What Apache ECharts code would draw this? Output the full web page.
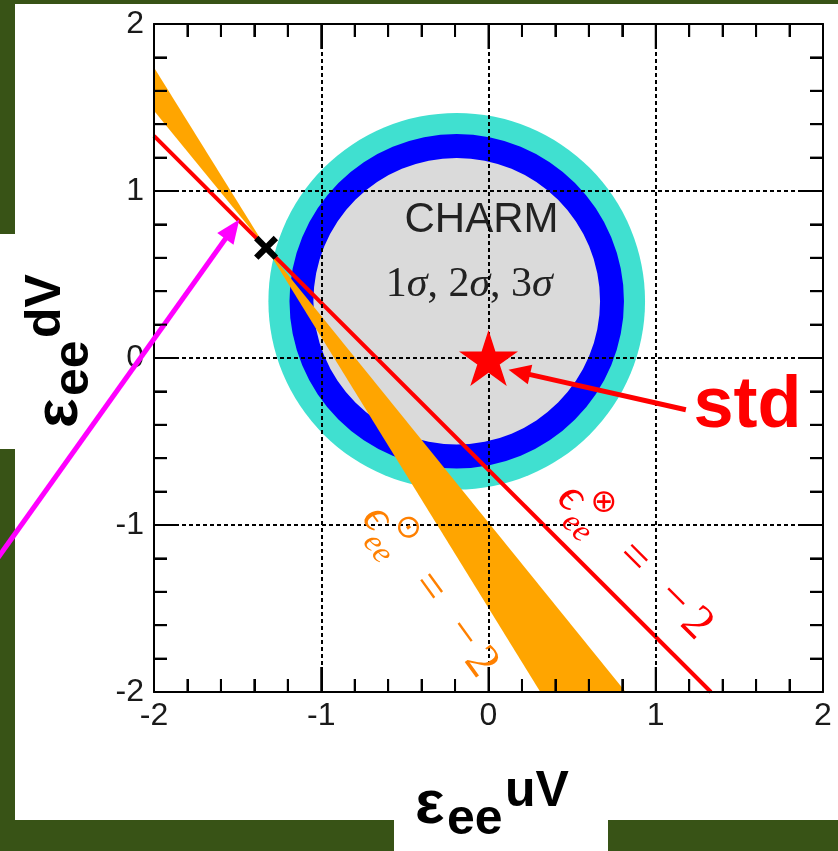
<!DOCTYPE html>
<html>
<head>
<meta charset="utf-8">
<script src="https://cdn.jsdelivr.net/npm/echarts@6/dist/echarts.min.js"></script>
<style>
html, body { margin: 0; padding: 0; width: 838px; height: 851px; overflow: hidden; background: #385316; position: relative; }
.panel { position: absolute; background: #ffffff; }
#chart { position: absolute; left: 0; top: 0; width: 838px; height: 851px; }
</style>
</head>
<body>
<div class="panel" style="left:15px;top:4px;width:823px;height:816px"></div>
<div class="panel" style="left:0;top:234px;width:15px;height:215px"></div>
<div class="panel" style="left:394px;top:820px;width:214px;height:31px"></div>
<div id="chart"></div>
<script>
// Axis ticks and their labels (both axes share the same range)
const axisTicks = [-2, -1, 0, 1, 2];
const tickLabels = ['-2', '-1', '0', '1', '2'];
const minorPerMajor = 5;

// CHARM allowed region: common centre, 3σ / 2σ / 1σ radii
const charmCenter = [-0.19, 0.34];
const charmRadii = [1.126, 1.0, 0.857];
const charmColors = ['#40e0d0', '#0000ff', '#dadada'];

// ε⊗ = -2 line
const redLine = [[-2, 1.33], [1.33, -2]];

// ε⊙ = -2 band: its two edges and the point where they pinch together
const bandUpperEdge = [[-2, 1.74], [0.31, -2]];
const bandLowerEdge = [[-2, 1.48], [0.82, -2]];
const bandPinch = [-1.33, 0.66];

// Marked points
const crossPoint = [-1.33, 0.66];
const standardPoint = [0, 0];

const STAR = 'path://M50,0 L61.17,34.63 L97.55,34.55 L68.07,55.87 L79.39,90.45 L50,69 L20.61,90.45 L31.93,55.87 L2.45,34.55 L38.83,34.63 Z';
const CROSS = 'path://M0,2.2 L2.2,0 L6,3.8 L9.8,0 L12,2.2 L8.2,6 L12,9.8 L9.8,12 L6,8.2 L2.2,12 L0,9.8 L3.8,6 Z';

function txt(x, y, text, font, fill, align) {
  return {
    type: 'text', x: x, y: y,
    style: { text: text, font: font, fill: fill, align: align || 'left', verticalAlign: 'middle', textAlign: align || 'left', textVerticalAlign: 'middle' }
  };
}

// ε_ee^{sup} = -2 written along a line; pieces placed by (along, baseline offset)
function mathLabel(anchor, angleDeg, color, supChar) {
  const serif = '"Liberation Serif", "DejaVu Serif", serif';
  const pieces = [
    { t: 'ϵ', a: 0, b: 11, font: 'italic 48px ' + serif },
    { t: supChar, a: 26, b: -13, font: '32px "DejaVu Sans", sans-serif' },
    { t: 'ee', a: 25, b: 23, font: 'italic 32px ' + serif },
    { t: '=', a: 87, b: 10, font: '48px ' + serif },
    { t: '−', a: 144, b: 10, font: '48px ' + serif },
    { t: '2', a: 178, b: 12, font: '48px ' + serif }
  ];
  return {
    type: 'custom', z: 5, silent: true,
    data: [anchor], encode: { x: 0, y: 1 },
    renderItem: function (params, api) {
      const p = api.coord([api.value(0), api.value(1)]);
      return {
        type: 'group', x: p[0], y: p[1], rotation: -angleDeg * Math.PI / 180,
        children: pieces.map(function (pc) {
          const fs = parseFloat(pc.font.match(/(\d+)px/)[1]);
          return txt(pc.a, pc.b - 0.34 * fs, pc.t, pc.font, color, 'center');
        })
      };
    }
  };
}

function arrow(from, to, color, width, headLen, headWidth) {
  return {
    type: 'custom', z: 5, silent: true,
    data: [[from[0], from[1], to[0], to[1]]], encode: { x: [0, 2], y: [1, 3] },
    renderItem: function (params, api) {
      const a = api.coord([api.value(0), api.value(1)]);
      const b = api.coord([api.value(2), api.value(3)]);
      const dx = b[0] - a[0], dy = b[1] - a[1], L = Math.hypot(dx, dy);
      const ux = dx / L, uy = dy / L, nx = -uy, ny = ux;
      const base = [b[0] - ux * headLen, b[1] - uy * headLen];
      return {
        type: 'group', children: [
          { type: 'line', shape: { x1: a[0], y1: a[1], x2: base[0] + ux * 2, y2: base[1] + uy * 2 }, style: { stroke: color, lineWidth: width } },
          { type: 'polygon', shape: { points: [b, [base[0] + nx * headWidth / 2, base[1] + ny * headWidth / 2], [base[0] - nx * headWidth / 2, base[1] - ny * headWidth / 2]] }, style: { fill: color } }
        ]
      };
    }
  };
}

// Axis title ε_ee^{sup}, laid out from the baseline of ε
function axisTitle(sup) {
  const f = function (fs) { return 'bold ' + fs + 'px "Liberation Sans", Arial, sans-serif'; };
  return [
    txt(0, -0.35 * 62, 'ε', f(62), '#000'),
    txt(32, 10 - 0.35 * 50, 'ee', f(50), '#000'),
    txt(90, -18 - 0.35 * 50, sup, f(50), '#000')
  ];
}

// Tick positions: long at whole numbers, short in between
const tickValues = [];
for (let i = 0; i < axisTicks.length - 1; i++) {
  for (let k = 0; k < minorPerMajor; k++) {
    tickValues.push({ v: axisTicks[i] + (axisTicks[i + 1] - axisTicks[i]) * k / minorPerMajor, major: k === 0 });
  }
}
tickValues.push({ v: axisTicks[axisTicks.length - 1], major: true });
const innerTicks = tickValues.filter(function (t) { return t.v > axisTicks[0] && t.v < axisTicks[axisTicks.length - 1]; });

// Inward frame ticks on all four sides, as filled bars
const frameTicks = {
  type: 'custom', z: 6, silent: true, clip: false,
  data: innerTicks.map(function (t) { return [t.v, t.major ? 1 : 0]; }),
  dimensions: ['v', 'major'],
  encode: { x: 0 },
  renderItem: function (params, api) {
    const lo = axisTicks[0], hi = axisTicks[axisTicks.length - 1];
    const v = api.value(0);
    const len = api.value(1) ? 25 : 13;
    const b = api.coord([v, lo]), t = api.coord([v, hi]);
    const l = api.coord([lo, v]), r = api.coord([hi, v]);
    const bar = function (x, y, w, h) { return { type: 'rect', shape: { x: x, y: y, width: w, height: h }, style: { fill: '#000' } }; };
    return {
      type: 'group', children: [
        bar(b[0] - 1, b[1] - len, 2, len),
        bar(t[0] - 1, t[1], 2, len),
        bar(l[0], l[1] - 1, len, 2),
        bar(r[0] - len, r[1] - 1, len, 2)
      ]
    };
  }
};

const baseAxis = {
  type: 'value', min: -2, max: 2, interval: 1, z: 3,
  axisLine: { show: true, onZero: false, lineStyle: { color: '#000', width: 2 } },
  axisTick: { show: true, inside: true, length: 25, lineStyle: { color: '#000', width: 2 } },
  minorTick: { show: true, splitNumber: 5, length: 13, lineStyle: { color: '#000', width: 2 } },
  splitLine: { show: false },
  minorSplitLine: { show: false },
  axisLabel: { show: false }
};
const gridLine = { show: true, lineStyle: { color: '#000', width: 2, type: [4, 3] } };
const tickLabelStyle = {
  show: true, fontSize: 32, color: '#1a1a1a', fontFamily: '"Liberation Sans", Arial, sans-serif',
  formatter: function (v) { const i = axisTicks.indexOf(v); return i >= 0 ? tickLabels[i] : ''; }
};

const chart = echarts.init(document.getElementById('chart'), null, { renderer: 'canvas' });
chart.setOption({
  backgroundColor: 'transparent',
  animation: false,
  grid: { left: 154, top: 24, width: 669, height: 668 },
  xAxis: [
    Object.assign({}, baseAxis, { position: 'bottom', splitLine: gridLine, axisLabel: Object.assign({ margin: 8 }, tickLabelStyle) }),
    Object.assign({}, baseAxis, { position: 'top' })
  ],
  yAxis: [
    Object.assign({}, baseAxis, { position: 'left', splitLine: gridLine, axisLabel: Object.assign({ margin: 10 }, tickLabelStyle) }),
    Object.assign({}, baseAxis, { position: 'right' })
  ],
  graphic: [
    { type: 'group', x: 415, y: 828, children: axisTitle('uV') },
    { type: 'group', x: 82, y: 428, rotation: Math.PI / 2, children: axisTitle('dV') }
  ],
  series: [
    {
      type: 'custom', z: 1, silent: true,
      data: charmRadii.map(function (r, i) { return [charmCenter[0], charmCenter[1], r, i]; }),
      encode: { x: 0, y: 1 },
      renderItem: function (params, api) {
        const c = api.coord([api.value(0), api.value(1)]);
        const r = api.size([api.value(2), 0])[0];
        const i = api.value(3);
        return { type: 'circle', z2: i, shape: { cx: c[0], cy: c[1], r: r }, style: { fill: charmColors[i] } };
      }
    },
    {
      type: 'custom', z: 2, silent: true,
      data: [bandPinch], encode: { x: 0, y: 1 },
      renderItem: function (params, api) {
        const p = api.coord([api.value(0), api.value(1)]);
        const c = function (pt) { return api.coord(pt); };
        return {
          type: 'group', children: [
            { type: 'polygon', shape: { points: [c(bandUpperEdge[0]), c(bandLowerEdge[0]), p] }, style: { fill: '#ffa500' } },
            { type: 'polygon', shape: { points: [p, c(bandLowerEdge[1]), c(bandUpperEdge[1])] }, style: { fill: '#ffa500' } }
          ]
        };
      }
    },
    {
      type: 'line', z: 2, silent: true, data: redLine, symbol: 'none',
      lineStyle: { color: '#ff0000', width: 4 }
    },
    {
      type: 'custom', z: 2, silent: true,
      data: [[-0.042, 0.824, 0], [-0.115, 0.435, 1]], encode: { x: 0, y: 1 },
      renderItem: function (params, api) {
        const p = api.coord([api.value(0), api.value(1)]);
        if (api.value(2) === 0) {
          return txt(p[0], p[1], 'CHARM', '42px "Liberation Sans", Arial, sans-serif', '#222', 'center');
        }
        return {
          type: 'text', x: p[0], y: p[1],
          style: {
            text: '1{s|σ}, 2{s|σ}, 3{s|σ}', font: '42px "Liberation Serif", serif', fill: '#222',
            align: 'center', verticalAlign: 'middle', textAlign: 'center', textVerticalAlign: 'middle',
            rich: { s: { fontStyle: 'italic', fontSize: 42, fontFamily: '"Liberation Serif", serif', fill: '#222', color: '#222' } }
          }
        };
      }
    },
    frameTicks,
    {
      type: 'scatter', z: 5, silent: true, data: [crossPoint],
      symbol: CROSS, symbolSize: 24, itemStyle: { color: '#000', opacity: 1 }
    },
    {
      type: 'scatter', z: 5, silent: true, data: [standardPoint],
      symbol: STAR, symbolSize: [59, 56], itemStyle: { color: '#ff0000', opacity: 1 }
    },
    arrow([-2.95, -1.22], [-1.49, 0.83], '#ff00ff', 5, 24, 20),
    arrow([1.18, -0.31], [0.12, -0.07], '#ff0000', 5, 22, 20),
    {
      type: 'custom', z: 5, silent: true,
      data: [[1.225, -0.445]], encode: { x: 0, y: 1 },
      renderItem: function (params, api) {
        const p = api.coord([api.value(0), api.value(1)]);
        return txt(p[0], p[1] - 0.35 * 72, 'std', 'bold 72px "Liberation Sans", Arial, sans-serif', '#ff0000', 'left');
      }
    },
    mathLabel([0.472, -0.858], 45, '#ff0000', '⊗'),
    mathLabel([-0.693, -0.977], 54, '#ff8000', '⊙')
  ]
});
</script>
</body>
</html>
